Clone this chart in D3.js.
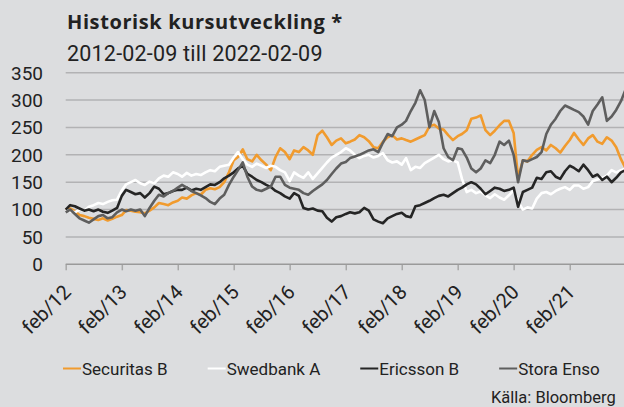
<!DOCTYPE html>
<html>
<head>
<meta charset="utf-8">
<script src="https://cdn.jsdelivr.net/npm/d3@7"></script>
<style>
  body { margin: 0; background: #dcdddf; }
  svg { display: block; }
</style>
</head>
<body>
<div id="chart"></div>
<script>
// monthly closes, indexed to 100 at 2012-02-09
var startDate = new Date(2012, 1, 9),
    endDate = new Date(2022, 1, 9);

var tickLabels = ["feb/12", "feb/13", "feb/14", "feb/15", "feb/16", "feb/17", "feb/18", "feb/19", "feb/20", "feb/21"];
var yTicks = [0, 50, 100, 150, 200, 250, 300, 350];

var securitas = [
  100, 102, 97, 90, 88, 85, 83, 81, 84, 80, 83, 87,
  90, 99, 98, 96, 95, 93, 98, 104, 112, 110, 108, 113,
  116, 122, 120, 126, 130, 127, 136, 139, 137, 141, 150, 168,
  190, 196, 210, 192, 188, 200, 190, 182, 172, 196, 212, 205,
  192, 208, 205, 214, 208, 200, 236, 244, 232, 218, 226, 230,
  221, 224, 228, 236, 232, 225, 214, 212, 224, 232, 236, 228,
  230, 227, 224, 228, 232, 236, 252, 255, 248, 246, 236, 227,
  234, 238, 245, 266, 268, 272, 245, 236, 244, 254, 262, 262,
  240, 158, 190, 188, 200, 209, 214, 208, 218, 212, 204, 216,
  227, 240, 228, 218, 230, 236, 224, 220, 232, 226, 214, 192, 175
];
var swedbank = [
  100, 97, 95, 100, 98, 105, 108, 112, 110, 114, 117, 118,
  135, 146, 150, 154, 148, 145, 151, 148, 157, 162, 160, 168,
  165, 160, 167, 162, 165, 163, 168, 172, 170, 178, 180, 182,
  195, 205, 192, 182, 178, 184, 180, 176, 180, 178, 172, 168,
  152, 168, 162, 158, 168, 156, 166, 176, 186, 195, 200, 205,
  212, 208, 200, 194, 198, 200, 195, 198, 203, 190, 186, 188,
  182, 194, 172, 178, 176, 185, 190, 195, 200, 192, 188, 190,
  186, 156, 132, 136, 130, 133, 126, 121, 128, 122, 118, 126,
  135, 115, 100, 104, 102, 120, 130, 132, 128, 134, 138, 141,
  136, 144, 144, 138, 141, 152, 155, 158, 162, 172, 168, 172, 175
];
var ericsson = [
  100, 108, 106, 102, 98, 100, 97, 100, 96, 94, 98, 103,
  125, 136, 132, 128, 130, 122, 130, 142, 138, 128, 130, 134,
  136, 136, 140, 135, 138, 136, 141, 146, 145, 150, 157, 162,
  168, 175, 180, 165, 160, 154, 150, 145, 141, 134, 130, 124,
  120, 130, 125, 103, 100, 102, 98, 97, 85, 78, 86, 88,
  92, 95, 93, 95, 103, 98, 82, 78, 75, 84, 88, 92,
  94, 88, 86, 106, 108, 112, 116, 121, 125, 127, 124, 130,
  136, 140, 146, 150, 146, 138, 128, 134, 140, 138, 134, 136,
  140, 105, 132, 136, 140, 158, 156, 168, 170, 160, 156, 170,
  180, 176, 170, 182, 172, 160, 164, 154, 160, 150, 158, 168, 172
];
var storaEnso = [
  95, 100, 92, 84, 80, 76, 82, 88, 90, 84, 86, 95,
  100, 97, 100, 98, 100, 88, 103, 116, 127, 124, 130, 134,
  140, 145, 140, 134, 130, 126, 121, 114, 110, 120, 127, 145,
  160, 172, 186, 160, 142, 136, 134, 138, 142, 160, 160, 145,
  140, 138, 136, 130, 127, 134, 140, 146, 154, 165, 175, 184,
  187, 194, 197, 200, 204, 208, 210, 205, 222, 238, 234, 250,
  255, 262, 280, 295, 318, 300, 250, 280, 260, 212, 196, 190,
  212, 210, 195, 175, 168, 175, 190, 185, 200, 224, 218, 226,
  200, 150, 190, 188, 192, 196, 205, 238, 255, 266, 280, 290,
  286, 282, 278, 270, 255, 280, 292, 305, 262, 270, 282, 298, 320
];

var seriesNames = ["Securitas B", "Swedbank A", "Ericsson B", "Stora Enso"];
var seriesValues = [securitas, swedbank, ericsson, storaEnso];
var seriesColors = ["#f19b2e", "#ffffff", "#252525", "#5e5e5e"];

var width = 624, height = 407;
var margin = { top: 72.7, left: 65.7 },
    plotW = 560,
    plotH = 191.6;

var svg = d3.select("#chart")
  .append("svg")
  .attr("width", width)
  .attr("height", height)
  .style("font-family", "Roboto, sans-serif");

svg.append("rect")
  .attr("width", width)
  .attr("height", height)
  .attr("fill", "#dcdddf");

// title
svg.append("text")
  .attr("x", 67)
  .attr("y", 29)
  .style("font-family", "'Open Sans', sans-serif")
  .style("font-weight", "bold")
  .style("font-size", "20px")
  .style("letter-spacing", "0.6px")
  .attr("fill", "#222")
  .text("Historisk kursutveckling *");

svg.append("text")
  .attr("x", 67)
  .attr("y", 61)
  .style("font-size", "21.5px")
  .style("letter-spacing", "0.2px")
  .attr("fill", "#222")
  .text("2012-02-09 till 2022-02-09");

var g = svg.append("g")
  .attr("transform", "translate(" + margin.left + "," + margin.top + ")");

var x = d3.scaleTime()
  .domain([startDate, endDate])
  .range([0, plotW]);

var y = d3.scaleLinear()
  .domain([0, 350])
  .range([plotH, 0]);

// gridlines
g.selectAll(".grid")
  .data(yTicks.filter(function(d) { return d > 0; }))
  .enter()
  .append("line")
  .attr("x1", 0)
  .attr("x2", width - margin.left)
  .attr("y1", function(d) { return y(d); })
  .attr("y2", function(d) { return y(d); })
  .attr("stroke", "#b2b2b4")
  .attr("stroke-width", 1.5);

// y labels
g.selectAll(".ylab")
  .data(yTicks)
  .enter()
  .append("text")
  .attr("x", 43 - margin.left)
  .attr("y", function(d) { return y(d); })
  .attr("dy", "0.36em")
  .attr("text-anchor", "end")
  .style("font-size", "19px")
  .attr("fill", "#222")
  .text(function(d) { return d; });

// x axis
var tickDates = tickLabels.map(function(d, i) {
  return d3.timeYear.offset(startDate, i);
});

var xAxis = g.append("g")
  .attr("transform", "translate(0," + plotH + ")")
  .call(d3.axisBottom(x)
    .tickValues(tickDates)
    .tickSize(6)
    .tickFormat(function(d, i) { return tickLabels[i]; }));

xAxis.select(".domain").remove();
xAxis.append("line")
  .attr("x1", 0)
  .attr("x2", width - margin.left)
  .attr("stroke", "#9a9a9a")
  .attr("stroke-width", 1.5);
xAxis.selectAll(".tick line")
  .attr("stroke", "#a8a8a8")
  .attr("stroke-width", 1.5);
xAxis.selectAll(".tick text")
  .style("font-family", "Roboto, sans-serif")
  .style("font-size", "20px")
  .attr("fill", "#222")
  .attr("text-anchor", "end")
  .attr("dy", null)
  .attr("y", null)
  .attr("transform", "translate(6,29) rotate(-45)");

// lines
var dates = d3.range(securitas.length).map(function(i) {
  return d3.timeMonth.offset(startDate, i);
});

var line = d3.line()
  .x(function(d, i) { return x(dates[i]); })
  .y(function(d) { return y(d); });

g.selectAll(".series")
  .data(seriesValues)
  .enter()
  .append("path")
  .attr("d", line)
  .attr("fill", "none")
  .attr("stroke", function(d, i) { return seriesColors[i]; })
  .attr("stroke-width", 2.6)
  .attr("stroke-linejoin", "round");

// legend
var legend = svg.append("g");
var lx = 63;
seriesNames.forEach(function(name, i) {
  legend.append("line")
    .attr("x1", lx)
    .attr("x2", lx + 18)
    .attr("y1", 368.5)
    .attr("y2", 368.5)
    .attr("stroke", seriesColors[i])
    .attr("stroke-width", 2);
  var t = legend.append("text")
    .attr("x", lx + 19)
    .attr("y", 375)
    .style("font-size", "17px")
    .attr("fill", "#222")
    .text(name);
  lx += 19 + t.node().getComputedTextLength() + 40;
});

svg.append("text")
  .attr("x", 491)
  .attr("y", 403)
  .style("font-size", "16.5px")
  .attr("fill", "#222")
  .text("Källa: Bloomberg");
</script>
</body>
</html>
